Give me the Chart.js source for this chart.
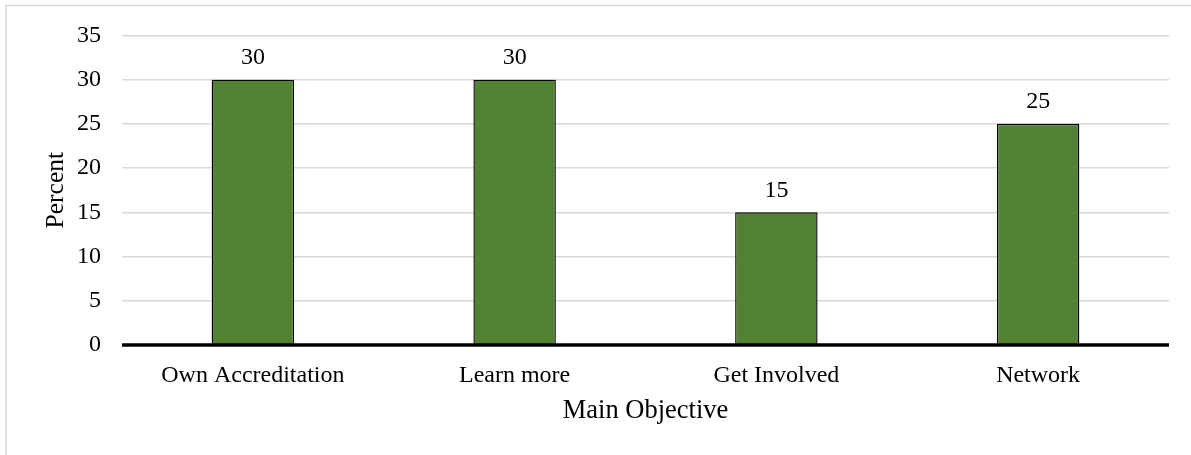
<!DOCTYPE html>
<html>
<head>
<meta charset="utf-8">
<script src="https://cdn.jsdelivr.net/npm/chart.js@4/dist/chart.umd.min.js"></script>
<style>
  html, body { margin: 0; padding: 0; background: #ffffff; }
  #wrap { width: 1191px; height: 455px; position: relative; }
  canvas { display: block; }
</style>
</head>
<body>
<div id="wrap"><canvas id="chart" width="1191" height="455"></canvas></div>
<script>
// Categories and values
const categories = ['Own Accreditation', 'Learn more', 'Get Involved', 'Network'];
const percentValues = [30, 30, 15, 25];
const yTicks = [0, 5, 10, 15, 20, 25, 30, 35];

const serif = "'Liberation Serif', 'Times New Roman', serif";

// Thin frame on the top and left edges of the figure
const framePlugin = {
  id: 'frame',
  beforeDraw(chart) {
    const ctx = chart.ctx;
    ctx.save();
    ctx.fillStyle = '#ffffff';
    ctx.fillRect(0, 0, chart.width, chart.height);
    ctx.strokeStyle = '#d9d9d9';
    ctx.lineWidth = 1.5;
    ctx.beginPath();
    ctx.moveTo(6, chart.height);
    ctx.lineTo(6, 5.5);
    ctx.lineTo(chart.width, 5.5);
    ctx.stroke();
    ctx.restore();
  }
};

// Value labels above each bar
const valueLabels = {
  id: 'valueLabels',
  afterDatasetsDraw(chart) {
    const ctx = chart.ctx;
    const meta = chart.getDatasetMeta(0);
    ctx.save();
    ctx.font = '24px ' + serif;
    ctx.fillStyle = '#000000';
    ctx.textAlign = 'center';
    ctx.textBaseline = 'bottom';
    meta.data.forEach((bar, i) => {
      ctx.fillText(String(chart.data.datasets[0].data[i]), bar.x, bar.y - 10);
    });
    ctx.restore();
  }
};

// Heavy baseline at zero
const baseline = {
  id: 'baseline',
  afterDatasetsDraw(chart) {
    const ctx = chart.ctx;
    const y = chart.scales.y.getPixelForValue(0);
    const a = chart.chartArea;
    ctx.save();
    ctx.strokeStyle = '#000000';
    ctx.lineWidth = 3.5;
    ctx.beginPath();
    ctx.moveTo(a.left, y);
    ctx.lineTo(a.right, y);
    ctx.stroke();
    ctx.restore();
  }
};

new Chart(document.getElementById('chart'), {
  type: 'bar',
  data: {
    labels: categories,
    datasets: [{
      label: 'Percent',
      data: percentValues,
      backgroundColor: '#548235',
      borderColor: '#000000',
      borderWidth: 1.4,
      categoryPercentage: 1.0,
      barPercentage: 0.315
    }]
  },
  options: {
    responsive: false,
    animation: false,
    devicePixelRatio: 1,
    layout: { padding: { left: 0, right: 22, top: 34, bottom: 0 } },
    plugins: {
      legend: { display: false },
      tooltip: { enabled: false }
    },
    scales: {
      x: {
        grid: { display: false, drawTicks: false },
        border: { display: false },
        ticks: { color: '#000000', font: { family: serif, size: 24 }, padding: 16, maxRotation: 0 },
        title: {
          display: true,
          text: 'Main Objective',
          color: '#000000',
          font: { family: serif, size: 26.5 },
          padding: { top: 4, bottom: 28 }
        },
        afterFit(scale) { scale.height = 110; }
      },
      y: {
        min: 0,
        max: 35,
        afterBuildTicks(scale) { scale.ticks = yTicks.map(v => ({ value: v })); },
        grid: { color: '#d9d9d9', lineWidth: 1.5, drawTicks: false },
        border: { display: false },
        ticks: { color: '#000000', font: { family: serif, size: 24 }, padding: 21 },
        title: {
          display: true,
          text: 'Percent',
          color: '#000000',
          font: { family: serif, size: 25.5 },
          padding: { top: 41, bottom: 0 }
        },
        afterFit(scale) { scale.width = 122; }
      }
    }
  },
  plugins: [framePlugin, valueLabels, baseline]
});
</script>
</body>
</html>
